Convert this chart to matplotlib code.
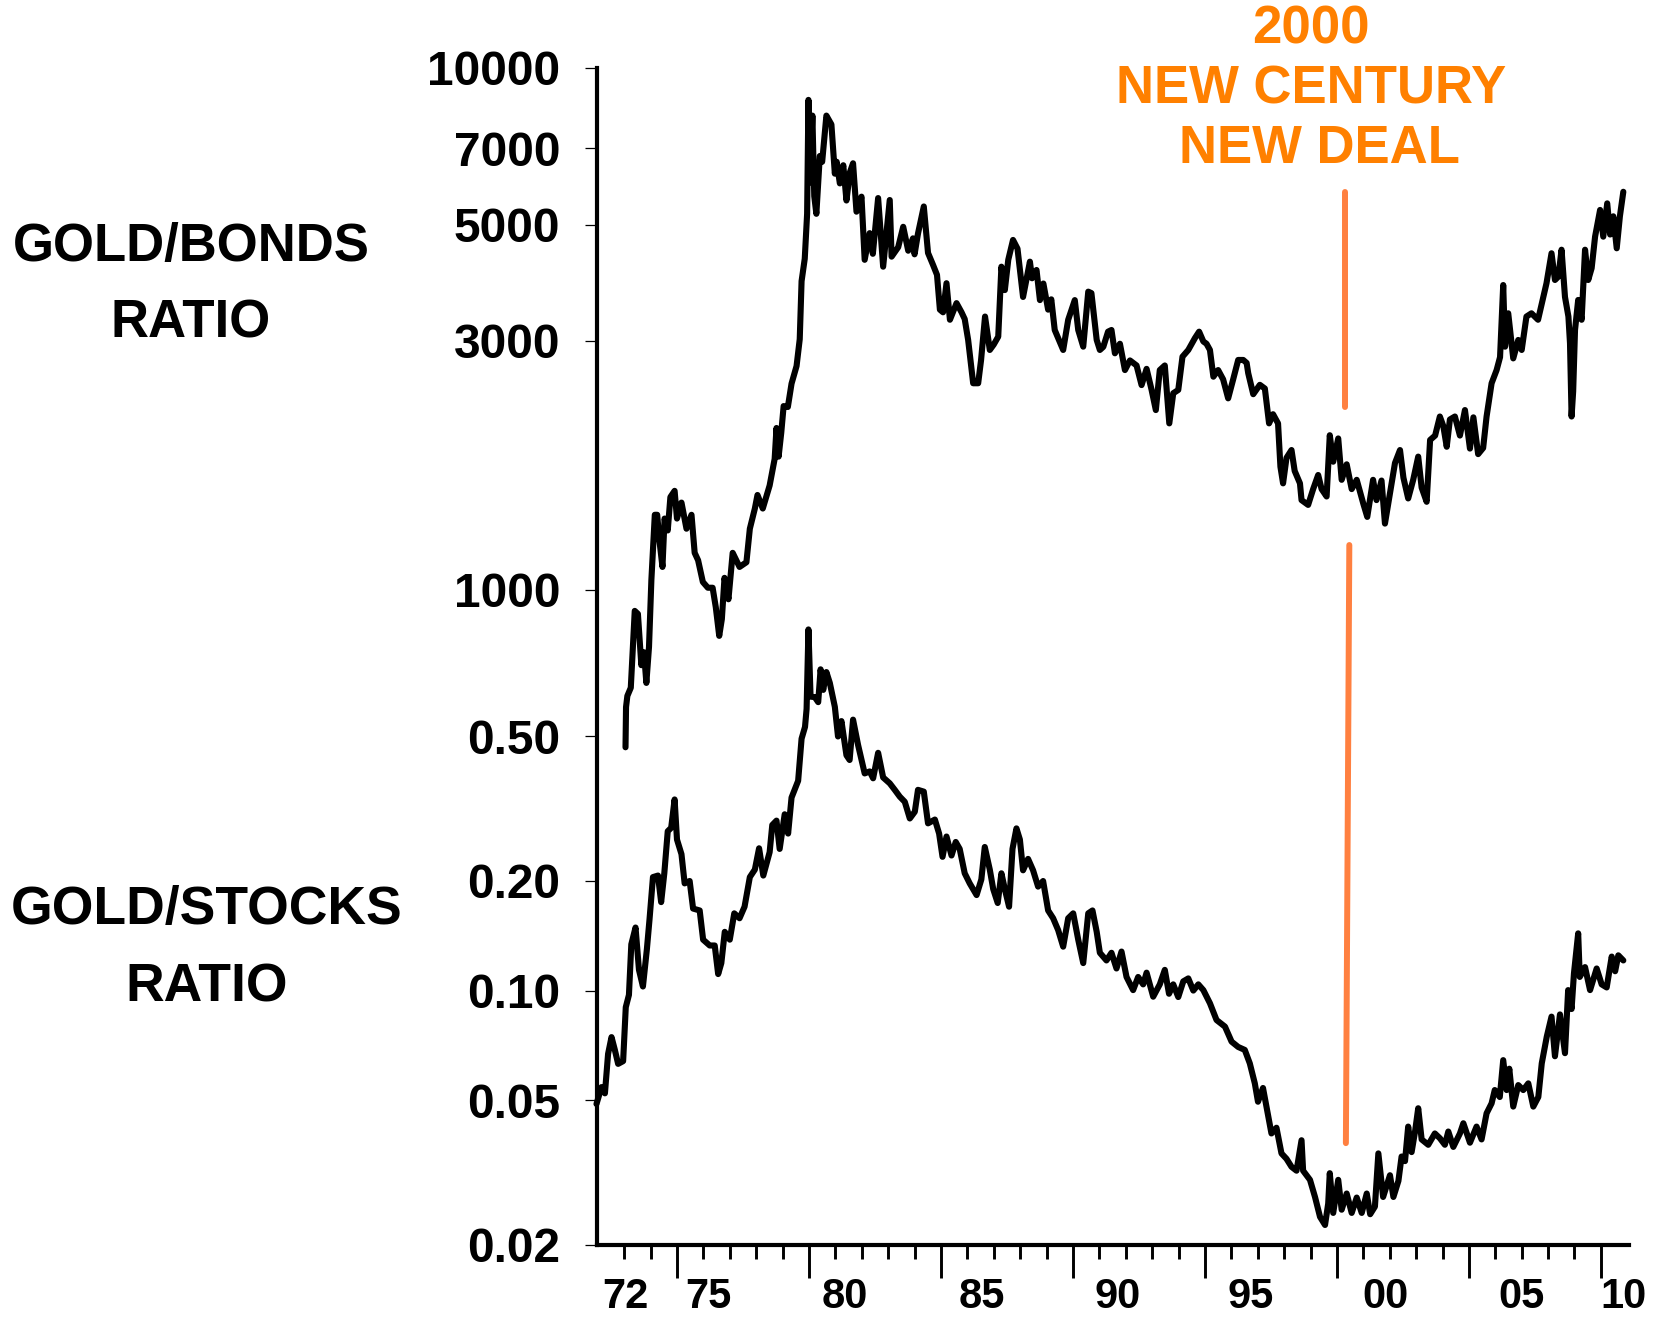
import numpy as np
import matplotlib.pyplot as plt
from matplotlib.ticker import NullLocator

# gold/bonds ratio (upper panel)
gb_years = [1973.05, 1973.07, 1973.12, 1973.25, 1973.40, 1973.52, 1973.65, 1973.75, 1973.84, 1973.94,
            1974.03, 1974.16, 1974.25, 1974.33, 1974.45, 1974.53, 1974.65, 1974.75, 1974.91, 1975.00,
            1975.17, 1975.36, 1975.55, 1975.67, 1975.80, 1975.98, 1976.17, 1976.35, 1976.47, 1976.60,
            1976.70, 1976.80, 1976.95, 1977.11, 1977.37, 1977.63, 1977.76, 1977.95, 1978.05, 1978.25,
            1978.51, 1978.70, 1978.77, 1978.85, 1978.95, 1979.04, 1979.20, 1979.34, 1979.53, 1979.65,
            1979.72, 1979.84, 1979.93, 1979.98, 1980.03, 1980.13, 1980.20, 1980.28, 1980.41, 1980.50,
            1980.66, 1980.85, 1980.98, 1981.05, 1981.17, 1981.30, 1981.42, 1981.55, 1981.67, 1981.80,
            1981.99, 1982.11, 1982.30, 1982.42, 1982.62, 1982.81, 1983.06, 1983.13, 1983.38, 1983.57,
            1983.76, 1983.94, 1984.00, 1984.13, 1984.35, 1984.51, 1984.70, 1984.85, 1984.96, 1985.08,
            1985.21, 1985.34, 1985.59, 1985.78, 1985.90, 1986.03, 1986.22, 1986.41, 1986.52, 1986.67,
            1986.85, 1987.00, 1987.17, 1987.29, 1987.42, 1987.55, 1987.73, 1987.90, 1988.11, 1988.37,
            1988.45, 1988.62, 1988.75, 1988.88, 1989.06, 1989.18, 1989.31, 1989.63, 1989.82, 1990.07,
            1990.20, 1990.39, 1990.58, 1990.70, 1990.90, 1991.02, 1991.15, 1991.33, 1991.46, 1991.59,
            1991.78, 1991.97, 1992.16, 1992.41, 1992.60, 1992.79, 1992.98, 1993.14, 1993.29, 1993.48,
            1993.65, 1993.80, 1993.99, 1994.15, 1994.37, 1994.50, 1994.62, 1994.78, 1994.94, 1995.06,
            1995.19, 1995.32, 1995.50, 1995.69, 1995.88, 1996.07, 1996.26, 1996.45, 1996.58, 1996.64,
            1996.83, 1997.08, 1997.27, 1997.43, 1997.58, 1997.77, 1997.86, 1997.96, 1998.09, 1998.28,
            1998.40, 1998.60, 1998.66, 1998.91, 1999.10, 1999.29, 1999.42, 1999.61, 1999.73, 1999.86,
            2000.05, 2000.18, 2000.37, 2000.56, 2000.75, 2001.00, 2001.15, 2001.37, 2001.50, 2001.69,
            2001.82, 2002.01, 2002.20, 2002.39, 2002.52, 2002.70, 2002.89, 2003.08, 2003.21, 2003.40,
            2003.53, 2003.72, 2003.90, 2004.03, 2004.16, 2004.28, 2004.47, 2004.66, 2004.85, 2005.04,
            2005.17, 2005.35, 2005.54, 2005.67, 2005.86, 2006.05, 2006.18, 2006.30, 2006.37, 2006.49,
            2006.68, 2006.87, 2007.00, 2007.18, 2007.37, 2007.62, 2007.82, 2007.94, 2008.13, 2008.26,
            2008.39, 2008.51, 2008.64, 2008.77, 2008.83, 2008.89, 2008.95, 2009.02, 2009.14, 2009.27,
            2009.40, 2009.52, 2009.65, 2009.78, 2009.97, 2010.09, 2010.24, 2010.35, 2010.47, 2010.60,
            2010.72, 2010.85]
gb_vals = [500, 597, 627, 650, 912, 900, 718, 760, 664, 778,
           1045, 1393, 1393, 1250, 1107, 1370, 1300, 1506, 1548, 1370,
           1470, 1310, 1393, 1178, 1140, 1036, 1010, 1010, 927, 817,
           880, 1055, 960, 1178, 1107, 1130, 1310, 1432, 1520, 1432,
           1585, 1782, 2042, 1800, 2000, 2249, 2240, 2483, 2683, 3020,
           3900, 4305, 5248, 8670, 6024, 8090, 5675, 5248, 6770, 6600,
           8090, 7780, 6264, 6600, 6000, 6500, 5565, 6300, 6557, 5297,
           5660, 4285, 4820, 4400, 5625, 4157, 5577, 4345, 4530, 4956,
           4460, 4710, 4390, 4810, 5420, 4417, 4190, 4010, 3440, 3400,
           3865, 3290, 3540, 3400, 3300, 3010, 2487, 2487, 2756, 3337,
           2880, 2950, 3054, 4157, 3750, 4285, 4677, 4500, 3638, 4250,
           3950, 4097, 3588, 3860, 3440, 3600, 3145, 2880, 3290, 3588,
           3145, 2922, 3724, 3700, 3010, 2880, 2920, 3122, 3145, 2838,
           2960, 2636, 2750, 2690, 2467, 2650, 2415, 2210, 2636, 2690,
           2084, 2380, 2415, 2796, 2880, 2960, 3034, 3122, 2990, 2960,
           2880, 2560, 2636, 2530, 2327, 2530, 2756, 2756, 2720, 2600,
           2370, 2470, 2430, 2084, 2170, 2084, 1722, 1600, 1790, 1853,
           1690, 1600, 1486, 1455, 1560, 1660, 1560, 1510, 1978, 1760,
           1950, 1625, 1740, 1560, 1625, 1463, 1380, 1625, 1486, 1620,
           1340, 1530, 1750, 1853, 1640, 1497, 1625, 1800, 1570, 1475,
           1937, 1975, 2148, 2060, 1880, 2120, 2148, 1975, 2210, 1865,
           2140, 1820, 1870, 2148, 2487, 2636, 2790, 3834, 2922, 3385,
           2775, 3010, 2880, 3337, 3385, 3290, 3638, 3865, 4410, 3920,
           3980, 4480, 3638, 3337, 2967, 2148, 2400, 3145, 3590, 3290,
           4480, 3920, 4130, 4745, 5338, 4745, 5495, 4790, 5190, 4508,
           5190, 5783]

# gold/stocks ratio (lower panel)
gs_years = [1971.95, 1972.14, 1972.27, 1972.39, 1972.52, 1972.64, 1972.77, 1972.96, 1973.06, 1973.18,
            1973.27, 1973.43, 1973.56, 1973.71, 1973.86, 1973.96, 1974.09, 1974.28, 1974.40, 1974.52,
            1974.65, 1974.78, 1974.91, 1975.00, 1975.17, 1975.29, 1975.48, 1975.61, 1975.86, 1975.99,
            1976.24, 1976.43, 1976.56, 1976.68, 1976.81, 1977.00, 1977.17, 1977.37, 1977.56, 1977.76,
            1977.95, 1978.11, 1978.27, 1978.51, 1978.61, 1978.77, 1978.89, 1979.08, 1979.21, 1979.34,
            1979.59, 1979.72, 1979.85, 1979.91, 1979.98, 1980.06, 1980.22, 1980.35, 1980.44, 1980.54,
            1980.66, 1980.79, 1980.98, 1981.10, 1981.23, 1981.42, 1981.54, 1981.67, 1981.86, 1982.11,
            1982.30, 1982.43, 1982.62, 1982.81, 1983.06, 1983.25, 1983.44, 1983.63, 1983.82, 1984.01,
            1984.13, 1984.35, 1984.51, 1984.77, 1984.93, 1985.06, 1985.21, 1985.40, 1985.56, 1985.71,
            1985.90, 1986.09, 1986.35, 1986.53, 1986.66, 1986.85, 1986.98, 1987.15, 1987.29, 1987.42,
            1987.58, 1987.71, 1987.86, 1987.99, 1988.11, 1988.30, 1988.49, 1988.68, 1988.87, 1989.06,
            1989.25, 1989.44, 1989.63, 1989.82, 1990.01, 1990.20, 1990.39, 1990.58, 1990.74, 1990.90,
            1991.02, 1991.27, 1991.46, 1991.65, 1991.84, 1992.03, 1992.28, 1992.47, 1992.66, 1992.79,
            1993.04, 1993.29, 1993.48, 1993.64, 1993.80, 1993.99, 1994.18, 1994.37, 1994.56, 1994.75,
            1994.94, 1995.19, 1995.44, 1995.76, 1996.01, 1996.26, 1996.51, 1996.70, 1996.89, 1997.01,
            1997.20, 1997.33, 1997.52, 1997.71, 1997.90, 1998.09, 1998.28, 1998.47, 1998.66, 1998.72,
            1998.98, 1999.17, 1999.36, 1999.55, 1999.67, 1999.73, 1999.86, 2000.05, 2000.18, 2000.37,
            2000.56, 2000.75, 2000.94, 2001.13, 2001.26, 2001.44, 2001.57, 2001.75, 2002.01, 2002.14,
            2002.33, 2002.45, 2002.58, 2002.70, 2002.83, 2002.96, 2003.08, 2003.21, 2003.46, 2003.71,
            2003.90, 2004.09, 2004.22, 2004.41, 2004.66, 2004.79, 2005.04, 2005.29, 2005.48, 2005.67,
            2005.86, 2005.98, 2006.17, 2006.30, 2006.43, 2006.53, 2006.68, 2006.87, 2007.06, 2007.25,
            2007.44, 2007.63, 2007.76, 2007.95, 2008.13, 2008.26, 2008.45, 2008.64, 2008.76, 2008.89,
            2008.98, 2009.14, 2009.20, 2009.40, 2009.59, 2009.84, 2010.03, 2010.22, 2010.41, 2010.54,
            2010.66, 2010.85]
gs_vals = [0.0488, 0.0543, 0.0522, 0.067, 0.0745, 0.069, 0.0629, 0.064, 0.090, 0.0973,
           0.134, 0.149, 0.114, 0.1026, 0.130, 0.157, 0.205, 0.207, 0.175, 0.21,
           0.274, 0.28, 0.335, 0.26, 0.237, 0.197, 0.20, 0.168, 0.166, 0.138,
           0.133, 0.133, 0.111, 0.119, 0.145, 0.138, 0.163, 0.158, 0.17, 0.205,
           0.215, 0.246, 0.207, 0.24, 0.285, 0.293, 0.245, 0.305, 0.27, 0.339,
           0.377, 0.492, 0.53, 0.594, 0.982, 0.642, 0.64, 0.62, 0.763, 0.67,
           0.75, 0.70, 0.602, 0.499, 0.55, 0.443, 0.43, 0.555, 0.473, 0.395,
           0.40, 0.383, 0.45, 0.385, 0.371, 0.356, 0.341, 0.33, 0.297, 0.31,
           0.356, 0.352, 0.288, 0.295, 0.27, 0.233, 0.265, 0.235, 0.256, 0.245,
           0.21, 0.197, 0.183, 0.202, 0.248, 0.215, 0.19, 0.174, 0.21, 0.19,
           0.170, 0.245, 0.279, 0.26, 0.214, 0.23, 0.214, 0.193, 0.20, 0.166,
           0.158, 0.1466, 0.132, 0.158, 0.163, 0.138, 0.119, 0.163, 0.166, 0.145,
           0.127, 0.121, 0.127, 0.115, 0.128, 0.109, 0.1003, 0.109, 0.104, 0.112,
           0.0962, 0.104, 0.114, 0.098, 0.104, 0.096, 0.106, 0.108, 0.100, 0.104,
           0.1003, 0.0923, 0.083, 0.0796, 0.0724, 0.070, 0.0687, 0.0631, 0.0556, 0.0495,
           0.054, 0.048, 0.0405, 0.042, 0.0357, 0.0345, 0.0328, 0.032, 0.0388, 0.032,
           0.0302, 0.0271, 0.0239, 0.0227, 0.026, 0.0315, 0.0245, 0.0302, 0.025, 0.0277,
           0.0245, 0.027, 0.0245, 0.0277, 0.0243, 0.0255, 0.0357, 0.0271, 0.0311, 0.0271,
           0.030, 0.035, 0.034, 0.0423, 0.036, 0.041, 0.0475, 0.039, 0.0377, 0.0405,
           0.0393, 0.0377, 0.041, 0.0372, 0.0405, 0.0432, 0.0382, 0.0423, 0.039, 0.046,
           0.049, 0.0533, 0.051, 0.0644, 0.0533, 0.061, 0.048, 0.055, 0.0533, 0.0556,
           0.048, 0.051, 0.0631, 0.0747, 0.0848, 0.066, 0.086, 0.0673, 0.1003, 0.089,
           0.1115, 0.1436, 0.109, 0.116, 0.1003, 0.115, 0.104, 0.102, 0.124, 0.113,
           0.125, 0.121]

gb_ticks = [10000, 7000, 5000, 3000, 1000]
gs_ticks = [0.50, 0.20, 0.10, 0.05, 0.02]
gs_ticklabels = ["0.50", "0.20", "0.10", "0.05", "0.02"]
year_labels = ["72", "75", "80", "85", "90", "95", "00", "05", "10"]
year_label_pos = [1973.06, 1976.19, 1981.37, 1986.53, 1991.71, 1996.75, 2001.83, 2006.98, 2010.84]

plt.rcParams['font.family'] = ['Liberation Sans', 'DejaVu Sans']
plt.rcParams['font.weight'] = 'bold'

W, H = 1663, 1323
fig = plt.figure(figsize=(W / 100, H / 100), dpi=100)

# plot box in pixels (from top-left)
x0, x1 = 597, 1628.6
y_top, y_bot = 67.5, 1245
rect = (x0 / W, 1 - y_bot / H, (x1 - x0) / W, (y_bot - y_top) / H)
box_h = y_bot - y_top

# two log scales stacked on one frame
ax = fig.add_axes(rect)
ax2 = fig.add_axes(rect, sharex=ax)
ax2.patch.set_visible(False)

ax.set_yscale('log')
ax2.set_yscale('log')
ax.set_ylim(0.02, 0.02 * 10 ** (box_h / 364.0))
ax2.set_ylim(10 ** (4 - box_h / 522.5), 10000)
ax.set_xlim(1971.97, 2011.05)

lw = 4.4
ax.plot(gs_years, gs_vals, color='black', lw=lw, solid_joinstyle='round',
        solid_capstyle='round', clip_on=False)
ax2.plot(gb_years, gb_vals, color='black', lw=lw, solid_joinstyle='round',
         solid_capstyle='round', clip_on=False)

# orange marker for 2000
ocol = '#ff8040'
ax2.plot([2000.30, 2000.30], [5784, 2243], color=ocol, lw=4.3, solid_capstyle='round')
ax.plot([2000.47, 2000.34], [1.675, 0.0381], color=ocol, lw=4.3, solid_capstyle='round')

# spines
for s in ['top', 'right']:
    ax.spines[s].set_visible(False)
for s in ax2.spines.values():
    s.set_visible(False)
ax.spines['left'].set_linewidth(3)
ax.spines['bottom'].set_linewidth(3)

# y ticks
ax.set_yticks(gs_ticks, labels=gs_ticklabels)
ax.yaxis.set_minor_locator(NullLocator())
ax2.set_yticks(gb_ticks, labels=[str(t) for t in gb_ticks])
ax2.yaxis.set_minor_locator(NullLocator())
for a in (ax, ax2):
    a.tick_params(axis='y', which='major', direction='out', length=8.5, width=0.9,
                  pad=18, labelsize=34.5)
ax2.xaxis.set_visible(False)

# x ticks: every year, longer ones every 5 years
ax.set_xticks(np.arange(1975, 2011, 5), labels=[])
ax.set_xticks([y for y in range(1973, 2011) if y % 5 != 0], minor=True)
ax.tick_params(axis='x', which='major', direction='out', length=24, width=2.1)
ax.tick_params(axis='x', which='minor', direction='out', length=10, width=2.1)
for lab, xp in zip(year_labels, year_label_pos):
    ax.text(xp, -(1297 - y_bot) / box_h, lab, transform=ax.get_xaxis_transform(),
            ha='center', va='center', fontsize=30, fontweight='bold')

# side labels
def ftext(px, py, s, **kw):
    fig.text(px / W, 1 - py / H, s, ha='center', va='center', fontweight='bold', **kw)

ftext(191, 247, "GOLD/BONDS", fontsize=38)
ftext(191, 323, "RATIO", fontsize=38)
ftext(207, 910, "GOLD/STOCKS", fontsize=38.5)
ftext(207, 988, "RATIO", fontsize=38.5)

tcol = '#ff8000'
ftext(1311, 29, "2000", fontsize=38, color=tcol)
ftext(1311, 89, "NEW CENTURY", fontsize=38, color=tcol)
ftext(1319, 149, "NEW DEAL", fontsize=38, color=tcol)

fig.savefig('out.png', dpi=100)
